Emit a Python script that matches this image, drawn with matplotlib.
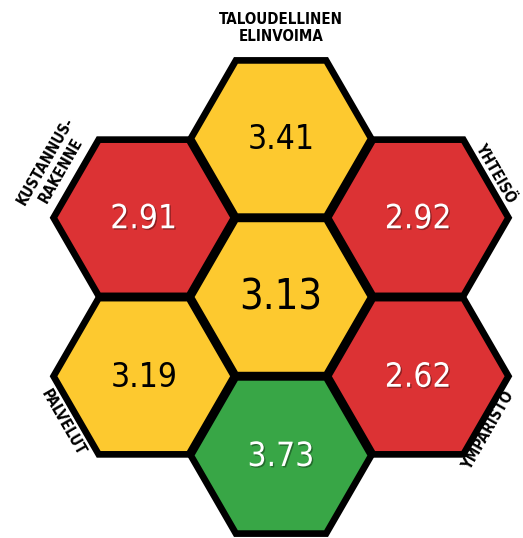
import numpy as np
import matplotlib
matplotlib.use("Agg")
import matplotlib.pyplot as plt
from matplotlib.patches import RegularPolygon
import matplotlib.patheffects as pe

# arvot kuusikulmioissa (keskellä kokonaisarvo)
arvot = [3.13, 3.41, 2.92, 2.62, 3.73, 3.19, 2.91]
# osa-alueiden nimet (tyhjä = ei otsikkoa)
nimet = ["", "TALOUDELLINEN\nELINVOIMA", "YHTEISÖ", "YMPÄRISTÖ", "",
         "PALVELUT", "KUSTANNUS-\nRAKENNE"]

# asettelu: aksiaaliset koordinaatit (q, r) tasapäisille kuusikulmioille
ruudut = [(0, 0), (0, -1), (1, -1), (1, 0), (0, 1), (-1, 1), (-1, 0)]
# otsikon suunta, kierto, etäisyys reunasta ja siirto reunan suuntaan
otsikko_kulma = [None, 90, 30, -30, None, -150, 150]
otsikko_rot = [0, 0, -60, 60, 0, -60, 60]
otsikko_eta = [0, 31, 10, 9, 0, 14, 25]
otsikko_siirto = [0, 0, 0, -12, 0, 0, 0]

PUNAINEN = "#dc3234"
KELTAINEN = "#fdc92f"
VIHREA = "#38a646"

def vari(v):
    if v < 3.0:
        return PUNAINEN
    if v < 3.5:
        return KELTAINEN
    return VIHREA

W, H = 523, 538
fig = plt.figure(figsize=(W / 100, H / 100), dpi=100)
ax = fig.add_axes([0, 0, 1, 1])
ax.set_xlim(0, W)
ax.set_ylim(H, 0)
ax.axis("off")

R_grid = 91.5   # ruudukon säde (px)
R_hex = 90.2    # piirretyn kuusikulmion säde
cx0, cy0 = 281, 297
apoteemi = R_grid * np.sqrt(3) / 2

fontti = ["Liberation Sans Narrow", "DejaVu Sans"]
shadow = [pe.withSimplePatchShadow(offset=(1, -1), shadow_rgbFace="k", alpha=0.35)]

for i, (q, r) in enumerate(ruudut):
    cx = cx0 + 1.5 * R_grid * q
    cy = cy0 + np.sqrt(3) * R_grid * (r + q / 2)
    hexa = RegularPolygon((cx, cy), numVertices=6, radius=R_hex,
                          orientation=np.pi / 6, facecolor=vari(arvot[i]),
                          edgecolor="black", linewidth=4.8, joinstyle="miter")
    ax.add_patch(hexa)

    v = arvot[i]
    tekstivari = "black" if vari(v) == KELTAINEN else "white"
    koko = 30 if i == 0 else 24
    t = ax.text(cx, cy + 1, f"{v:.2f}", ha="center", va="center", fontsize=koko,
                color=tekstivari, family=fontti, fontstretch="condensed")
    if tekstivari == "white":
        t.set_path_effects(shadow)

    if nimet[i]:
        a = np.deg2rad(otsikko_kulma[i])
        d = apoteemi + otsikko_eta[i]
        # normaali (n) ja reunan suunta (t) kuvapisteinä
        nx, ny = np.cos(a), -np.sin(a)
        tx_, ty_ = ny, -nx
        tx = cx + d * nx + otsikko_siirto[i] * tx_
        ty = cy + d * ny + otsikko_siirto[i] * ty_
        ax.text(tx, ty, nimet[i], ha="center", va="center", multialignment="center",
                rotation=otsikko_rot[i], rotation_mode="anchor", fontsize=10.8,
                fontweight="heavy", family=fontti, fontstretch="condensed",
                linespacing=1.2, color="black")

fig.savefig("out.png", dpi=100)
